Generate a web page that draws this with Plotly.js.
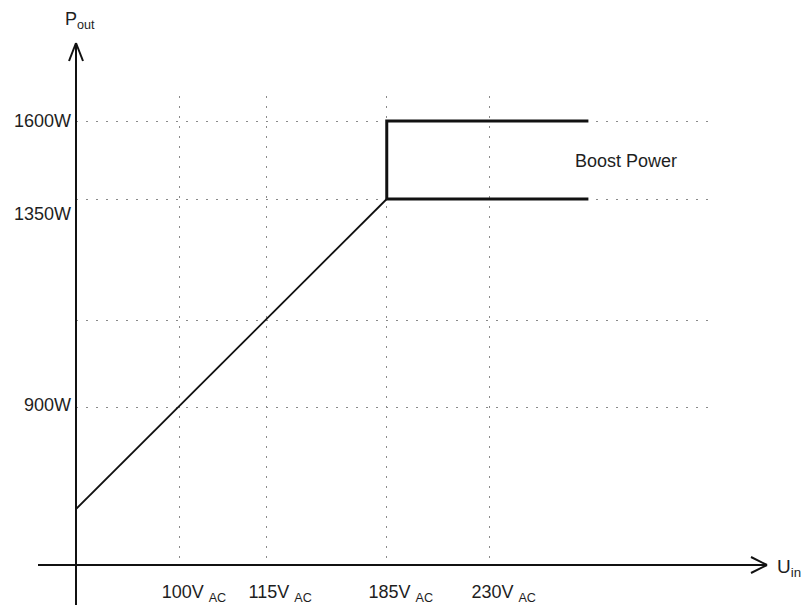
<!DOCTYPE html>
<html>
<head>
<meta charset="utf-8">
<script src="https://cdn.plot.ly/plotly-3.0.1.min.js"></script>
<style>html,body{margin:0;padding:0;background:#fff;}#chart{width:801px;height:605px;}</style>
</head>
<body>
<div id="chart"></div>
<script>
// ---- data (schematic positions; the original diagram is not to scale) ----
const xLabels = ['100V <sub>AC</sub>', '115V <sub>AC</sub>', '185V <sub>AC</sub>', '230V <sub>AC</sub>'];
const xPos = [1.0, 1.83, 2.99, 3.98];           // input voltage positions
const yGridPos = [1.58, 2.45, 3.66, 4.44];      // 900W, (unlabelled), 1350W, 1600W
const yLabels = ['900W', '1350W', '1600W'];
const yLabelPos = [1.60, 3.515, 4.44];
const startLevel = 0.56;                        // output power at U = 0
const boostEnd = 4.93;                          // right end of the power lines
const boostText = 'Boost Power';

// ---- geometry helpers (pixel -> paper) ----
const W = 801, H = 605;
const L = 76, T = 96, R = 710, B = 565;
const px = v => (v - L) / (R - L);
const py = v => (B - v) / (B - T);

const ink = '#111';
const textCol = '#1e1e1e';
const font = {family: '"Liberation Sans", Arial, sans-serif', size: 18, color: textCol};

const traces = [
  {x: [0, xPos[2]], y: [startLevel, yGridPos[2]], mode: 'lines',
   line: {color: ink, width: 1.8}, hoverinfo: 'skip', showlegend: false},
  {x: [boostEnd, xPos[2], xPos[2], boostEnd],
   y: [yGridPos[2], yGridPos[2], yGridPos[3], yGridPos[3]], mode: 'lines',
   line: {color: ink, width: 3}, hoverinfo: 'skip', showlegend: false},
  {x: [null], y: [null], yaxis: 'y2', mode: 'lines', hoverinfo: 'skip', showlegend: false}
];

const line = (x0, y0, x1, y1, w) => ({type: 'line', xref: 'paper', yref: 'paper',
  x0: px(x0), y0: py(y0), x1: px(x1), y1: py(y1), line: {color: ink, width: w}});

const shapes = [
  line(38, 565, 767, 565, 2),
  line(767, 565, 751, 557, 2),
  line(767, 565, 751, 573, 2),
  line(76, 605, 76, 43, 2),
  line(76, 43, 69, 61, 2),
  line(76, 43, 83, 61, 2)
];

const layout = {
  width: W, height: H,
  margin: {l: L, r: W - R, t: T, b: H - B, pad: 0},
  paper_bgcolor: '#fff', plot_bgcolor: '#fff',
  font: font,
  showlegend: false,
  xaxis: {range: [0, 6.1], tickmode: 'array', tickvals: xPos, ticktext: xLabels,
    showgrid: true, gridcolor: '#8a8a8a', gridwidth: 1, griddash: '2px,8px',
    zeroline: false, showline: false, ticks: '', ticklabelshift: 14, ticklabelstandoff: 14,
    tickfont: font, fixedrange: true},
  yaxis: {range: [0, 4.69], tickmode: 'array', tickvals: yGridPos, ticktext: ['', '', '', ''],
    showgrid: true, gridcolor: '#8a8a8a', gridwidth: 1, griddash: '2px,8px',
    zeroline: false, showline: false, ticks: '', fixedrange: true},
  yaxis2: {range: [0, 4.69], overlaying: 'y', side: 'left', anchor: 'x',
    tickmode: 'array', tickvals: yLabelPos, ticktext: yLabels,
    showgrid: false, zeroline: false, showline: false, ticks: '',
    ticklabelstandoff: 4, tickfont: font, fixedrange: true},
  shapes: shapes,
  annotations: [
    {xref: 'paper', yref: 'paper', x: px(63), y: py(7), xanchor: 'left', yanchor: 'top',
     text: 'P<sub>out</sub>', showarrow: false, font: {family: font.family, size: 18, color: textCol}},
    {xref: 'paper', yref: 'paper', x: px(775), y: py(554), xanchor: 'left', yanchor: 'top',
     text: 'U<sub>in</sub>', showarrow: false, font: {family: font.family, size: 19, color: textCol}},
    {xref: 'paper', yref: 'paper', x: px(626), y: py(161), xanchor: 'center', yanchor: 'middle',
     text: boostText, showarrow: false, font: {family: font.family, size: 18, color: textCol}}
  ]
};

Plotly.newPlot('chart', traces, layout, {displayModeBar: false, staticPlot: true});
</script>
</body>
</html>
